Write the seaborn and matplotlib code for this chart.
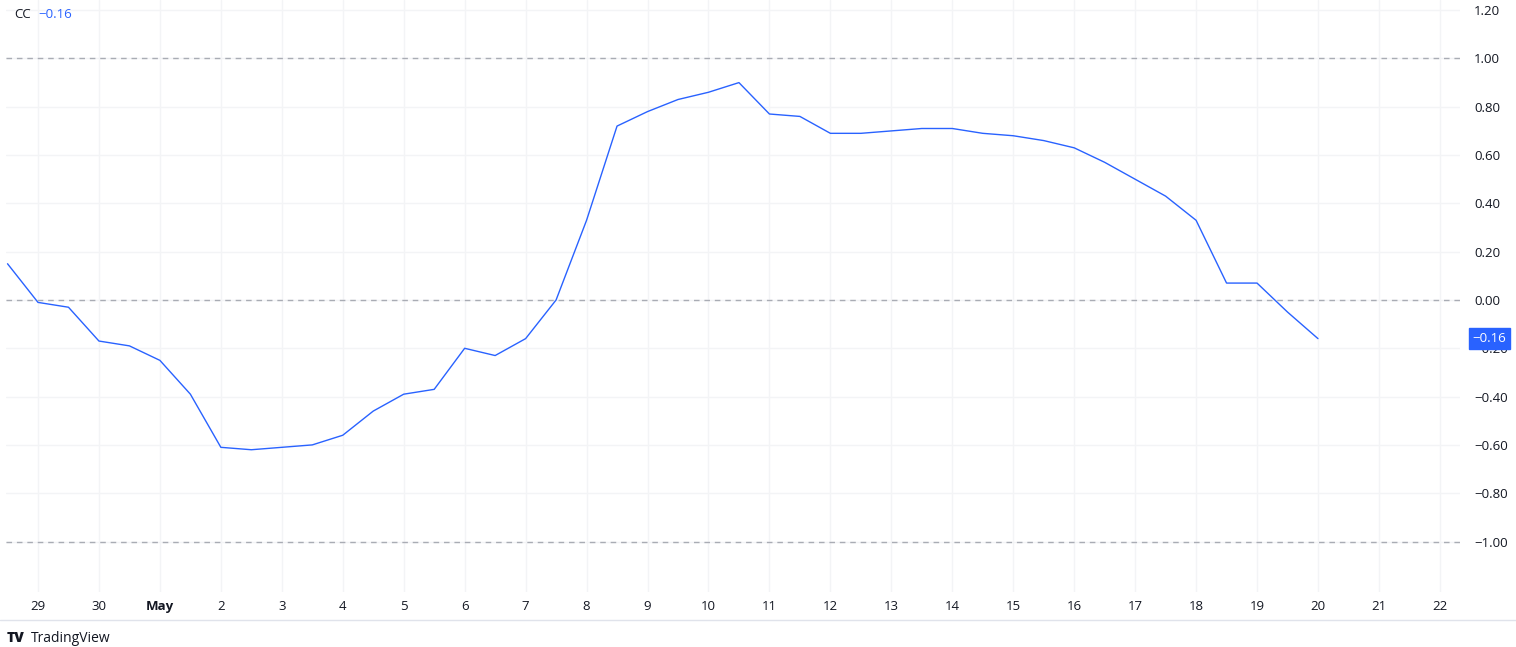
import pandas as pd
import matplotlib.pyplot as plt
from matplotlib.lines import Line2D
import seaborn as sns

sns.set_style("white")
plt.rcParams['font.family'] = ['Open Sans', 'DejaVu Sans']
plt.rcParams['axes.unicode_minus'] = True

# CC 指标数值 (每 12 小时一个点, 从 4月28日 12:00 开始)
cc_values = [0.15, -0.01, -0.03, -0.17, -0.19, -0.25, -0.39, -0.61, -0.62, -0.61,
             -0.60, -0.56, -0.46, -0.39, -0.37, -0.20, -0.23, -0.16, 0.00, 0.33,
             0.72, 0.78, 0.83, 0.86, 0.90, 0.77, 0.76, 0.69, 0.69, 0.70,
             0.71, 0.71, 0.69, 0.68, 0.66, 0.63, 0.57, 0.50, 0.43, 0.33,
             0.07, 0.07, -0.05, -0.16]
times = pd.date_range("2024-04-28 12:00", periods=len(cc_values), freq="12h")
day_ticks = pd.date_range("2024-04-29", "2024-05-22", freq="D")
day_labels = ["May" if d.day == 1 and d.month == 5 else str(d.day) for d in day_ticks]
y_ticks = [-1.0, -0.8, -0.6, -0.4, -0.2, 0.0, 0.2, 0.4, 0.6, 0.8, 1.0, 1.2]
ref_levels = [1.0, 0.0, -1.0]
last_value = cc_values[-1]

df = pd.DataFrame({"time": times, "CC": cc_values})

W, H = 1516, 647
fig = plt.figure(figsize=(W / 100, H / 100), dpi=100)
ax = fig.add_axes([6 / W, 1 - 592 / H, 1454 / W, 592 / H])

blue = '#2962FF'
text_col = '#131722'

def fmt(v):
    return f"{v:.2f}".replace("-", "\u2212")

# 网格
for d in day_ticks:
    ax.axvline(d, color='#f3f4f6', lw=1, zorder=0)
for v in y_ticks:
    ax.axhline(v, color='#f3f4f6', lw=1, zorder=0)
for v in ref_levels:
    ax.axhline(v, color='#a9acb4', lw=1, ls=(0, (4, 3.5)), zorder=1)

sns.lineplot(data=df, x="time", y="CC", color=blue, lw=1.0, ax=ax, zorder=3)

x0 = pd.Timestamp("2024-04-29") - pd.Timedelta(days=0.525)
x1 = pd.Timestamp("2024-04-29") + pd.Timedelta(days=23.33)
ax.set_xlim(x0, x1)
ax.set_ylim(-1.209, 1.242)

ax.set_xticks(day_ticks)
ax.set_xticklabels(day_labels)
for lbl in ax.get_xticklabels():
    if lbl.get_text() == "May":
        lbl.set_fontweight("bold")
ax.set_yticks(y_ticks)
ax.set_yticklabels([fmt(v) for v in y_ticks])
ax.yaxis.tick_right()
ax.tick_params(axis='y', length=0, pad=10, labelsize=9.5, colors=text_col)
ax.tick_params(axis='x', length=0, pad=6, labelsize=9.5, colors=text_col)
ax.set_xlabel("")
ax.set_ylabel("")
for s in ax.spines.values():
    s.set_visible(False)

# 最新值标签
ax.annotate(fmt(last_value), xy=(1.0085, last_value),
            xycoords=('axes fraction', 'data'), va='center', ha='left',
            fontsize=9.5, color='white',
            bbox=dict(boxstyle='square,pad=0.28', fc=blue, ec=blue))

# 图例
fig.text(14 / W, 1 - 15 / H, "CC", fontsize=9.5, color=text_col, va='center')
fig.text(38 / W, 1 - 15 / H, fmt(last_value), fontsize=9.5, color=blue, va='center')

# 底部边线和水印
fig.add_artist(Line2D([0, 1], [1 - 620 / H, 1 - 620 / H], color='#e0e3eb', lw=1))
fig.text(7 / W, 1 - 638 / H, "TV", fontsize=10, fontweight='heavy',
         color=text_col, va='center')
fig.text(31 / W, 1 - 638 / H, "TradingView", fontsize=10, color=text_col, va='center')

fig.savefig("out.png", dpi=100)
